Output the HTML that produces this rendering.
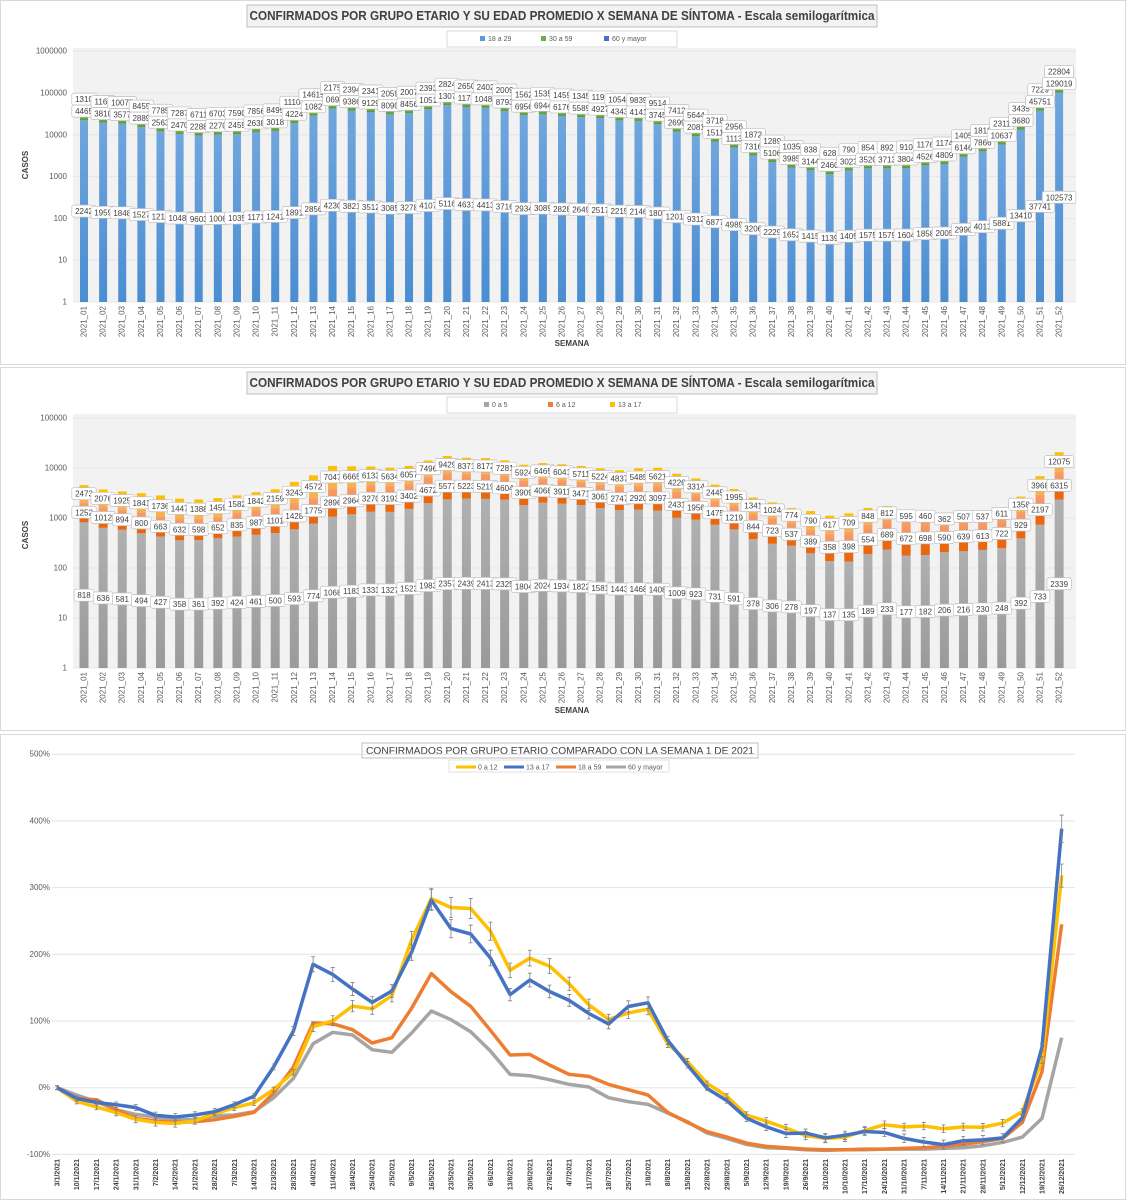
<!DOCTYPE html>
<html><head><meta charset="utf-8">
<style>
html,body{margin:0;padding:0;background:#fff;}
svg{display:block;font-family:"Liberation Sans",sans-serif;}
.tk{font-size:8px;fill:#595959;}
.lb{font-size:8px;fill:#404040;}
</style></head>
<body>
<svg id="chart" width="1126" height="1200" viewBox="0 0 1126 1200" xmlns="http://www.w3.org/2000/svg">
<defs>
<linearGradient id="gBlue" x1="0" y1="0" x2="0" y2="1"><stop offset="0" stop-color="#70a6dd"/><stop offset="1" stop-color="#4a8dd2"/></linearGradient>
<linearGradient id="gGreen" x1="0" y1="0" x2="0" y2="1"><stop offset="0" stop-color="#78b24a"/><stop offset="1" stop-color="#5a9a2e"/></linearGradient>
<linearGradient id="gGray" x1="0" y1="0" x2="0" y2="1"><stop offset="0" stop-color="#b0b0b0"/><stop offset="1" stop-color="#9a9a9a"/></linearGradient>
<linearGradient id="gOr" x1="0" y1="0" x2="0" y2="1"><stop offset="0" stop-color="#f8a06a"/><stop offset="0.6" stop-color="#f2844a"/><stop offset="0.62" stop-color="#e8670f"/><stop offset="1" stop-color="#e8670f"/></linearGradient>
<linearGradient id="gYe" x1="0" y1="0" x2="0" y2="1"><stop offset="0" stop-color="#ffc000"/><stop offset="1" stop-color="#f7b24a"/></linearGradient>
</defs>

<rect x="0.5" y="0.5" width="1125" height="364" fill="#fff" stroke="#d9d9d9"/>
<rect x="0.5" y="367.5" width="1125" height="363" fill="#fff" stroke="#d9d9d9"/>
<rect x="0.5" y="734.5" width="1125" height="465" fill="#fff" stroke="#d9d9d9"/>

<rect x="247" y="5" width="630" height="22" fill="#f2f2f2" stroke="#bfbfbf"/>
<text x="562" y="20" text-anchor="middle" font-size="12.5" font-weight="bold" fill="#404040" textLength="625" lengthAdjust="spacingAndGlyphs">CONFIRMADOS POR GRUPO ETARIO Y SU EDAD PROMEDIO X SEMANA DE SÍNTOMA - Escala semilogarítmica</text>
<rect x="447" y="31" width="230" height="16" fill="#fff" stroke="#d9d9d9"/>
<g><rect x="480" y="36" width="5" height="5" fill="#5b9bd5"/><text x="488" y="41" font-size="7" fill="#595959">18 a 29</text></g>
<g><rect x="541" y="36" width="5" height="5" fill="#70ad47"/><text x="549" y="41" font-size="7" fill="#595959">30 a 59</text></g>
<g><rect x="604" y="36" width="5" height="5" fill="#4472c4"/><text x="612" y="41" font-size="7" fill="#595959">60 y mayor</text></g>
<rect x="73" y="48" width="1003" height="254" fill="#f2f2f2"/>
<text transform="translate(28,165) rotate(-90)" text-anchor="middle" font-size="8" font-weight="bold" fill="#404040">CASOS</text>
<text x="572" y="346" text-anchor="middle" font-size="8" font-weight="bold" fill="#404040">SEMANA</text>
<g id="c1"></g>

<rect x="247" y="372" width="630" height="22" fill="#f2f2f2" stroke="#bfbfbf"/>
<text x="562" y="387" text-anchor="middle" font-size="12.5" font-weight="bold" fill="#404040" textLength="625" lengthAdjust="spacingAndGlyphs">CONFIRMADOS POR GRUPO ETARIO Y SU EDAD PROMEDIO X SEMANA DE SÍNTOMA - Escala semilogarítmica</text>
<rect x="447" y="397" width="230" height="16" fill="#fff" stroke="#d9d9d9"/>
<g><rect x="484" y="402" width="5" height="5" fill="#a5a5a5"/><text x="492" y="407" font-size="7" fill="#595959">0 a 5</text></g>
<g><rect x="548" y="402" width="5" height="5" fill="#ed7d31"/><text x="556" y="407" font-size="7" fill="#595959">6 a 12</text></g>
<g><rect x="610" y="402" width="5" height="5" fill="#ffc000"/><text x="618" y="407" font-size="7" fill="#595959">13 a 17</text></g>
<rect x="73" y="414" width="1003" height="254" fill="#f2f2f2"/>
<text transform="translate(28,535) rotate(-90)" text-anchor="middle" font-size="8" font-weight="bold" fill="#404040">CASOS</text>
<text x="572" y="713" text-anchor="middle" font-size="8" font-weight="bold" fill="#404040">SEMANA</text>
<g id="c2"></g>

<rect x="362" y="743" width="396" height="15" fill="#fff" stroke="#bfbfbf"/>
<text x="560" y="754" text-anchor="middle" font-size="10.5" fill="#404040" textLength="388" lengthAdjust="spacingAndGlyphs">CONFIRMADOS POR GRUPO ETARIO COMPARADO CON LA SEMANA 1 DE 2021</text>
<rect x="449" y="760" width="220" height="12" fill="#fff" stroke="#e0e0e0"/>
<g><line x1="456" y1="767" x2="476" y2="767" stroke="#ffc000" stroke-width="3"/><text x="478" y="769.5" font-size="7" fill="#595959">0 a 12</text></g>
<g><line x1="504" y1="767" x2="524" y2="767" stroke="#4472c4" stroke-width="3"/><text x="526" y="769.5" font-size="7" fill="#595959">13 a 17</text></g>
<g><line x1="556" y1="767" x2="576" y2="767" stroke="#ed7d31" stroke-width="3"/><text x="578" y="769.5" font-size="7" fill="#595959">18 a 59</text></g>
<g><line x1="606" y1="767" x2="626" y2="767" stroke="#a5a5a5" stroke-width="3"/><text x="628" y="769.5" font-size="7" fill="#595959">60 y mayor</text></g>
<g id="c3"></g>
</svg>

<script>
const weeks = [];
for (let i = 1; i <= 52; i++) weeks.push('2021_' + (i < 10 ? '0' + i : '' + i));
const dates = ['3/1/2021','10/1/2021','17/1/2021','24/1/2021','31/1/2021','7/2/2021','14/2/2021','21/2/2021','28/2/2021','7/3/2021','14/3/2021','21/3/2021','28/3/2021','4/4/2021','11/4/2021','18/4/2021','25/4/2021','2/5/2021','9/5/2021','16/5/2021','23/5/2021','30/5/2021','6/6/2021','13/6/2021','20/6/2021','27/6/2021','4/7/2021','11/7/2021','18/7/2021','25/7/2021','1/8/2021','8/8/2021','15/8/2021','22/8/2021','29/8/2021','5/9/2021','12/9/2021','19/9/2021','26/9/2021','3/10/2021','10/10/2021','17/10/2021','24/10/2021','31/10/2021','7/11/2021','14/11/2021','21/11/2021','28/11/2021','5/12/2021','12/12/2021','19/12/2021','26/12/2021'];
const ticks1 = [1,10,100,1000,10000,100000,1000000];
const ticks2 = [1,10,100,1000,10000,100000];
const ticks3 = [-100,0,100,200,300,400,500];

const s18a29 = [22424,19590,18480,15270,12140,10488,9603,10061,10354,11710,12410,18910,28560,42300,38210,35120,30850,32780,41070,51160,46310,44130,37160,29340,30890,28280,26490,25170,22150,21460,18080,12012,9312,6877,4989,3206,2229,1652,1415,1139,1405,1575,1579,1604,1858,2005,2990,4013,5881,13410,37741,102573];
const lab18a29 = ['2242','1959','1848','1527','1214','10488','9603','1006','1035','1171','1241','1891','2856','4230','3821','3512','3085','3278','4107','5116','4631','4413','3716','2934','3089','2828','2649','2517','2215','2146','1808','12012','9312','6877','4989','3206','2229','1652','1415','1139','1405','1575','1579','1604','1858','2005','2990','4013','5881','13410','37741','102573'];
const lab30a59 = ['4465','3810','3577','2889','2563','2470','2288','2270','2459','2638','3018','4224','1082','069','9386','9129','8090','8456','1051','1307','1174','10488','8793','6956','6944','6176','5589','4927','4343','4141','3745','2699','2081','1511','1113','7316','5106','3985','3144','2460','3023','3520','3713','3804','4526','4809','6146','7866','10637','3680','45751','129019'];
const lab60 = ['1310','1162','10077','8455','7785','7287','6711','6703','7590','7856','8495','11104','14615','2175','2394','2341','2059','2007','2393','2824','2650','2402','2009','1562','1535','1459','1345','1192','10548','9839','9514','7412','5644','3718','2956','1872','1289','1035','838','628','790','854','892','910','1176','1174','1405','1819','2311','3435','7229','22804'];

const s0a5 = [818,636,581,494,427,358,361,392,424,461,500,593,774,1068,1183,1333,1327,1523,1983,2357,2439,2413,2325,1804,2024,1934,1822,1581,1443,1468,1408,1009,923,731,591,378,306,278,197,137,135,189,233,177,182,206,216,230,248,392,733,2339];
const s6a12 = [1252,1012,894,800,663,632,598,652,835,987,1101,1428,1775,2896,2964,3270,3193,3402,4672,5577,5223,5219,4604,3909,4068,3911,3471,3061,2747,2920,3097,2431,1956,1475,1219,844,723,537,389,358,398,554,689,672,698,590,639,613,722,929,2197,6315];
const s13a17 = [2473,2076,1925,1841,1736,1447,1388,1459,1582,1842,2159,3243,4572,7047,6665,6133,5634,6057,7496,9429,8371,8172,7281,5924,6465,6041,5711,5224,4837,5485,5621,4226,3314,2445,1995,1341,1024,774,790,617,709,848,812,595,460,362,507,537,611,1358,3968,12075];

const p18a59 = [0,-16,-18,-33,-46,-50,-52,-51,-48,-43,-37,-8,31,97,96,87,67,75,119,171,144,122,86,49,50,34,20,17,5,-3,-11,-37,-52,-66,-74,-83,-88,-90,-92,-93,-93,-92,-92,-91,-90,-88,-85,-81,-76,-52,24,245];
const p60 = [0,-11,-21,-33,-40,-44,-48,-48,-42,-41,-36,-15,14,66,83,79,57,53,82,115,102,84,55,20,18,12,5,1,-15,-21,-25,-38,-51,-68,-76,-85,-90,-91,-93,-94,-93,-93,-92,-92,-92,-91,-90,-87,-82,-74,-46,75];

const NS = 'http://www.w3.org/2000/svg';
function mk(tag, attrs, parent) {
  const e = document.createElementNS(NS, tag);
  for (const k in attrs) e.setAttribute(k, attrs[k]);
  parent.appendChild(e);
  return e;
}
const fmt = n => String(n);
function labelBox(parent, cx, cy, txt) {
  const g = mk('g', {}, parent);
  
  
  const w = txt.length * 4.6 + 6;
  mk('rect', {x: cx - w/2, y: cy - 6, width: w, height: 12, rx: 2, fill: '#fff', stroke: '#bfbfbf', 'stroke-width': 0.7}, g);
  const t = mk('text', {x: cx, y: cy + 3, 'text-anchor': 'middle', class: 'lb'}, g);
  t.textContent = txt;
}
const L10 = Math.log10;

(function(){
  const g = document.getElementById('c1');
  const y = v => 302 - 41.8 * L10(v);
  const x = i => 84 + i * 19.12;
  ticks1.forEach(t => {
    const ln = mk('line', {x1: 73, x2: 1076, y1: y(t), y2: y(t), stroke: '#e3e3e3', 'stroke-width': 0.8}, g);
    
    
    const tx = mk('text', {x: 67, y: y(t) + 2.5, 'text-anchor': 'end', class: 'tk', 'font-size': 7}, g);
    
    
    tx.textContent = fmt(t);
  });
  s18a29.forEach((v, i) => {
    const cx = x(i), top = y(v), gt = y(v * 1.25);
    const b = mk('rect', {x: cx - 4, y: top, width: 8, height: 302 - top, fill: 'url(#gBlue)'}, g);
    
    
    const gb = mk('rect', {x: cx - 4, y: gt, width: 8, height: top - gt, fill: 'url(#gGreen)'}, g);
    
    
  });
  s18a29.forEach((v, i) => {
    const cx = x(i), top = y(v);
    labelBox(g, cx, y(Math.sqrt(v)), lab18a29[i]);
    labelBox(g, cx, top - 21, lab60[i]);
    labelBox(g, cx, top - 9, lab30a59[i]);
    const tx = mk('text', {transform: `translate(${cx + 2.5},306) rotate(-90)`, 'text-anchor': 'end', class: 'tk', 'font-size': 7}, g);
    
    
    tx.textContent = weeks[i];
  });
})();

(function(){
  const g = document.getElementById('c2');
  const y = v => 668 - 50 * L10(v);
  const x = i => 84 + i * 19.12;
  ticks2.forEach(t => {
    const ln = mk('line', {x1: 73, x2: 1076, y1: y(t), y2: y(t), stroke: '#e3e3e3', 'stroke-width': 0.8}, g);
    
    
    const tx = mk('text', {x: 67, y: y(t) + 2.5, 'text-anchor': 'end', class: 'tk', 'font-size': 7}, g);
    
    
    tx.textContent = fmt(t);
  });
  s0a5.forEach((a, i) => {
    const b = s6a12[i], c = s13a17[i], cx = x(i);
    const y1 = y(a), y2 = y(a + b), y3 = y(a + b + c);
    const r1 = mk('rect', {x: cx - 4.5, y: y1, width: 9, height: 668 - y1, fill: 'url(#gGray)'}, g);
    
    
    const r2 = mk('rect', {x: cx - 4.5, y: y2, width: 9, height: y1 - y2, fill: 'url(#gOr)'}, g);
    
    
    const r3 = mk('rect', {x: cx - 4.5, y: y3, width: 9, height: y2 - y3, fill: 'url(#gYe)'}, g);
    
    
  });
  s0a5.forEach((a, i) => {
    const b = s6a12[i], c = s13a17[i], cx = x(i);
    labelBox(g, cx, y(Math.sqrt(a)), fmt(a));
    labelBox(g, cx, y(Math.sqrt(a * (a + b))), fmt(b));
    labelBox(g, cx, y(Math.sqrt((a + b) * (a + b + c))), fmt(c));
    const tx = mk('text', {transform: `translate(${cx + 2.5},672) rotate(-90)`, 'text-anchor': 'end', class: 'tk', 'font-size': 7}, g);
    
    
    tx.textContent = weeks[i];
  });
})();

(function(){
  const g = document.getElementById('c3');
  const y = p => 1087.7 - 0.667 * p;
  const x = i => 57 + i * 19.7;
  ticks3.forEach(t => {
    const ln = mk('line', {x1: 52, x2: 1075, y1: y(t), y2: y(t), stroke: '#e3e3e3', 'stroke-width': 1}, g);
    
    
    const tx = mk('text', {x: 50, y: y(t) + 2.5, 'text-anchor': 'end', class: 'tk', 'font-size': 7}, g);
    
    
    tx.textContent = t + '%';
  });
  const p0a12 = s0a5.map((a, i) => ((a + s6a12[i]) / (s0a5[0] + s6a12[0]) - 1) * 100);
  const p13a17 = s13a17.map(v => (v / s13a17[0] - 1) * 100);
  const series = [
    {d: p60, c: '#a5a5a5', n: 'line-60ymayor', err: false},
    {d: p18a59, c: '#ed7d31', n: 'line-18a59', err: false},
    {d: p0a12, c: '#ffc000', n: 'line-0a12', err: true},
    {d: p13a17, c: '#4472c4', n: 'line-13a17', err: true}
  ];
  series.forEach(s => {
    const pts = s.d.map((v, i) => x(i).toFixed(1) + ',' + y(v).toFixed(1)).join(' ');
    const pl = mk('polyline', {points: pts, fill: 'none', stroke: s.c, 'stroke-width': 3.5, 'stroke-linejoin': 'round'}, g);
    
    
    if (s.err) {
      s.d.forEach((v, i) => {
        const e = Math.max(1.5, Math.abs(v) * 0.03 + 2);
        const cx = x(i), cy = y(v);
        const eb = mk('path', {d: `M${cx},${cy - e}V${cy + e}M${cx - 2},${cy - e}H${cx + 2}M${cx - 2},${cy + e}H${cx + 2}`, stroke: '#7f7f7f', 'stroke-width': 0.8, fill: 'none'}, g);
        
        
      });
    }
  });
  dates.forEach((d, i) => {
    const tx = mk('text', {transform: `translate(${x(i) + 2.5},1159) rotate(-90)`, 'text-anchor': 'end', 'font-size': 7, 'font-weight': 'bold', fill: '#404040'}, g);
    
    
    tx.textContent = d;
  });
})();
</script>
</body></html>
